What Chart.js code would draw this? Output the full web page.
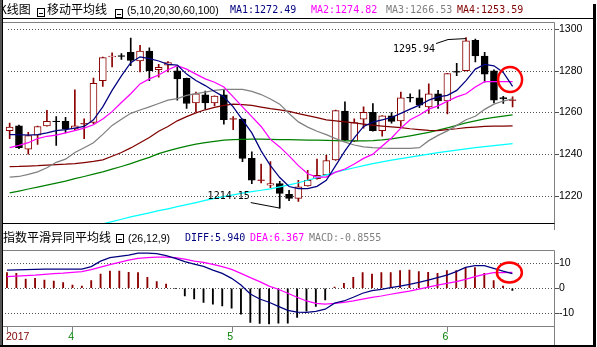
<!DOCTYPE html>
<html>
<head>
<meta charset="utf-8">
<script src="https://cdn.jsdelivr.net/npm/chart.js@4/dist/chart.umd.min.js"></script>
<style>
html, body { margin: 0; padding: 0; background: #fff; }
#wrap { position: relative; width: 597px; height: 347px; overflow: hidden; background: #fff; }
canvas { position: absolute; left: 0; }
.t { position: absolute; white-space: nowrap; line-height: 1; }
.cjk { font-family: "Noto Sans CJK SC"; font-size: 12px; color: #000; }
.lat { font-family: "Liberation Sans"; font-size: 10.5px; color: #000; }
.mono { font-family: "DejaVu Sans Mono"; font-size: 10px; }
.box { position: absolute; width: 6px; height: 7px; border: 1px solid #000; }
.box::after { content: ""; position: absolute; left: 1px; right: 1px; top: 4px; height: 1px; background: #000; }
.rule { position: absolute; }
</style>
</head>
<body>
<div id="wrap">
  <canvas id="main" width="597" height="230" style="top:0"></canvas>
  <canvas id="macd" width="597" height="117" style="top:230px"></canvas>
</div>
<script>
// ---- session slots and axis labels ----
const slots = Array.from({ length: 59 }, (_, i) => String(i));
const monthTickIndex = [0, 7, 24, 47];
const monthTickText = ['2017', '4', '5', '6'];
const priceTicks = [1220, 1240, 1260, 1280, 1300];
const macdTicks = [-10, 0, 10];
const maPeriods = '(5,10,20,30,60,100)';
const macdParams = '(26,12,9)';

// ---- daily candles ----
const open = [1251.3,1253.6,1242.4,1249.1,1253.6,1255.7,1255.7,1252.1,1254.6,1255.2,
  1275.3,1286.6,1287.1,1288.9,1284.7,1289.4,1280.5,1282.7,1280.0,1276.4,
  1264.6,1268.5,1264.6,1268.5,1256.9,1256.8,1238.0,1227.5,1225.1,1225.9,
  1220.7,1218.8,1224.8,1228.2,1230.1,1237.2,1260.7,1246.3,1256.8,1260.1,
  1251.3,1258.4,1256.0,1267.1,1267.0,1262.7,1269.0,1265.6,1279.5,1280.0,
  1294.6,1287.1,1280.0,1267.1,1265.9];
const high = [1254.9,1254.0,1250.5,1253.5,1261.0,1258.0,1257.7,1270.9,1256.9,1276.5,
  1286.6,1288.6,1288.3,1295.7,1292.2,1291.0,1283.1,1284.4,1281.9,1276.5,
  1269.8,1270.3,1268.0,1270.9,1258.0,1257.0,1241.1,1235.3,1236.4,1227.0,
  1222.7,1227.5,1232.2,1237.6,1239.5,1261.2,1265.1,1256.9,1262.7,1264.3,
  1258.5,1259.9,1269.8,1269.0,1270.9,1273.7,1270.6,1278.8,1283.6,1295.94,
  1295.2,1288.9,1280.5,1267.8,1267.5];
const low = [1247.5,1242.7,1240.0,1244.7,1253.4,1244.2,1250.2,1251.5,1247.4,1254.6,
  1272.5,1281.9,1285.5,1282.4,1279.5,1275.3,1276.9,1279.5,1265.9,1262.0,
  1260.4,1261.6,1263.2,1254.4,1251.8,1236.4,1225.9,1226.2,1224.0,1214.15,
  1217.7,1217.3,1224.7,1228.0,1230.0,1237.0,1246.5,1246.0,1252.5,1251.0,
  1248.6,1254.9,1253.3,1265.1,1262.3,1259.6,1262.0,1259.3,1277.6,1279.9,
  1284.2,1274.5,1264.6,1264.3,1262.7];
const close = [1253.0,1243.1,1248.9,1253.3,1255.7,1255.65,1252.1,1253.6,1254.65,1274.0,
  1286.3,1287.1,1287.05,1285.0,1289.4,1280.0,1281.6,1283.9,1276.1,1264.3,
  1269.0,1264.6,1267.9,1256.5,1256.95,1238.0,1227.5,1227.55,1225.9,1221.2,
  1218.8,1224.3,1227.5,1229.8,1236.9,1260.9,1246.7,1255.2,1260.1,1251.3,
  1258.4,1255.7,1267.0,1267.05,1263.5,1268.9,1265.6,1278.7,1279.45,1294.4,
  1287.1,1278.4,1265.9,1266.5,1265.95];

// ---- moving averages ----
const ma5 = [1249.4,1249.4,1249.1,1249.4,1250.2,1251.3,1251.8,1252.5,1253.3,1256.5,
  1262.7,1270.6,1277.6,1283.9,1286.7,1285.8,1284.7,1283.1,1282.7,1278.4,
  1275.3,1272.9,1270.1,1267.5,1262.7,1256.5,1250.2,1241.6,1234.5,1228.8,
  1224.5,1223.5,1223.5,1224.6,1227.5,1234.5,1241.6,1247.8,1253.3,1255.4,
  1256.5,1257.6,1259.6,1261.6,1263.5,1265.9,1267.5,1268.2,1270.6,1275.3,
  1280.8,1283.1,1282.4,1279.2,1272.49];
const ma10 = [1243.1,1244.2,1245.5,1247.5,1248.6,1249.1,1250.2,1251.3,1252.5,1254.1,
  1256.9,1260.4,1264.8,1269.0,1273.7,1276.1,1278.0,1280.5,1282.4,1280.8,
  1278.4,1276.1,1274.5,1272.2,1267.5,1262.7,1258.0,1253.3,1247.1,1243.5,
  1239.2,1234.5,1230.6,1229.0,1229.0,1231.4,1232.9,1235.3,1238.0,1240.0,
  1243.9,1247.8,1252.5,1256.5,1258.8,1261.6,1263.2,1265.4,1267.5,1269.0,
  1272.2,1274.8,1274.8,1274.8,1274.82];
const ma20 = [1229.0,1229.3,1230.3,1231.5,1233.5,1236.1,1237.6,1240.8,1243.1,1245.5,
  1249.5,1253.8,1256.8,1259.6,1261.2,1262.7,1264.3,1265.9,1266.7,1268.2,
  1269.0,1269.8,1270.6,1271.1,1271.1,1271.1,1270.1,1268.6,1266.5,1264.0,
  1259.5,1255.5,1253.0,1251.0,1249.4,1247.5,1245.8,1244.4,1243.5,1243.1,
  1242.9,1242.8,1242.8,1242.8,1243.1,1246.5,1249.0,1251.2,1253.8,1256.5,
  1258.2,1261.5,1264.0,1265.5,1266.53];
const ma30 = [1234.0,1234.1,1234.3,1234.5,1234.8,1235.0,1235.2,1235.5,1236.0,1236.5,
  1237.3,1239.0,1240.8,1243.0,1245.5,1248.0,1251.0,1253.3,1256.0,1258.0,
  1259.8,1261.3,1262.5,1263.4,1264.0,1263.8,1263.4,1262.6,1261.8,1261.2,
  1260.5,1259.5,1258.5,1257.5,1256.5,1256.0,1255.5,1255.0,1254.4,1253.9,
  1253.5,1253.1,1252.7,1252.2,1251.8,1251.4,1251.3,1251.8,1252.2,1252.7,
  1253.0,1253.3,1253.4,1253.5,1253.59];
const ma60 = [1221.4,1222.3,1223.3,1224.2,1225.2,1226.1,1227.1,1228.3,1229.3,1230.4,
  1231.5,1232.8,1234.1,1235.5,1237.0,1238.5,1240.3,1241.6,1242.8,1243.9,
  1244.8,1245.6,1246.2,1246.7,1247.0,1247.1,1247.2,1247.2,1247.1,1247.0,
  1247.0,1246.9,1246.8,1246.7,1246.6,1246.5,1246.4,1246.4,1246.4,1246.5,
  1246.9,1247.4,1248.1,1248.8,1249.6,1250.5,1251.5,1252.6,1253.8,1255.0,
  1256.0,1256.9,1257.7,1258.3,1258.8];
const ma100 = [null,null,null,null,null,null,null,null,null,null,
  1206.6,1207.7,1208.8,1209.9,1210.9,1211.9,1212.9,1213.8,1214.8,1215.8,
  1216.8,1217.8,1218.8,1219.7,1220.5,1221.3,1222.0,1222.7,1223.4,1224.3,
  1225.3,1226.3,1227.5,1228.8,1230.1,1231.4,1232.5,1233.5,1234.5,1235.5,
  1236.3,1237.1,1237.9,1238.6,1239.3,1240.0,1240.7,1241.4,1242.0,1242.6,
  1243.1,1243.6,1244.1,1244.6,1245.1];

// ---- MACD (26,12,9) ----
const diff = [7.3,7.4,7.5,7.6,7.7,7.7,7.7,7.7,7.7,8.7,
  10.9,12.3,12.8,13.3,14.1,14.1,13.9,13.1,12.0,10.7,
  9.7,8.8,7.3,6.0,4.0,1.3,-2.3,-4.3,-5.6,-7.3,
  -8.9,-9.6,-9.7,-9.3,-8.4,-6.0,-5.1,-3.6,-2.0,-0.9,
  -0.4,0.3,0.9,1.6,2.4,3.3,4.3,5.3,6.7,8.4,
  9.1,9.1,8.0,6.9,5.940];
const dea = [4.7,4.9,5.1,5.3,5.6,5.9,6.1,6.4,6.7,7.5,
  8.5,9.5,10.4,11.3,12.0,12.3,12.5,12.5,12.3,11.7,
  10.9,10.4,9.6,8.7,7.6,6.0,4.3,2.7,0.9,-0.4,
  -2.0,-3.6,-5.1,-6.1,-6.4,-6.1,-5.7,-5.1,-4.4,-3.7,
  -3.1,-2.4,-1.7,-1.1,-0.3,0.5,1.3,2.0,2.7,3.6,
  4.7,5.6,6.3,6.3,6.367];
const macd = [6.3,6.0,3.7,4.0,3.3,2.9,2.3,1.3,0.9,3.1,
  5.7,6.9,6.9,6.4,6.3,4.4,2.7,1.7,-0.1,-3.1,
  -4.3,-5.7,-6.4,-7.1,-8.0,-10.4,-13.7,-14.1,-14.3,-14.0,
  -14.0,-11.7,-9.2,-7.3,-4.7,0.5,2.0,4.4,6.3,5.7,
  6.3,6.3,7.1,7.3,6.7,6.4,6.0,7.1,7.1,8.4,
  8.3,6.0,3.1,0.9,-0.8555];

// ---- colours ----
const UP = '#8b0000', DOWN = '#000000';
const C_MA5 = '#000080', C_MA10 = '#ff00ff', C_MA20 = '#808080',
      C_MA30 = '#800000', C_MA60 = '#008000', C_MA100 = '#00ffff';
const GRID = '#808080';
const DOT = '#505050';
const NONE = 'rgba(0,0,0,0)';

const last = a => a[a.length - 1];
const isUp = i => close[i] >= open[i];
const isDoji = i => Math.abs(close[i] - open[i]) < 0.2;

// ---- header texts ----
const wrap = document.getElementById('wrap');
function put(text, left, top, cls, color) {
  const s = document.createElement('span');
  s.className = 't ' + cls;
  s.textContent = text;
  s.style.left = left + 'px';
  s.style.top = top + 'px';
  if (color) s.style.color = color;
  wrap.appendChild(s);
}
function box(left, top) {
  const b = document.createElement('div');
  b.className = 'box';
  b.style.left = left + 'px';
  b.style.top = top + 'px';
  wrap.appendChild(b);
}
function rule(left, top, w, h, color) {
  const r = document.createElement('div');
  r.className = 'rule';
  Object.assign(r.style, { left: left + 'px', top: top + 'px', width: w + 'px', height: h + 'px', background: color });
  wrap.appendChild(r);
}

put('K线图', -1, 3, 'cjk');
box(37, 8);
put('移动平均线', 47, 3, 'cjk');
box(115, 9);
put(maPeriods, 127, 5, 'lat');
put('MA1:' + last(ma5).toFixed(2), 230, 5, 'mono', C_MA5);
put('MA2:' + last(ma10).toFixed(2), 311, 5, 'mono', C_MA10);
put('MA3:' + last(ma20).toFixed(2), 386, 5, 'mono', C_MA20);
put('MA4:' + last(ma30).toFixed(2), 457, 5, 'mono', C_MA30);

put('指数平滑异同平均线', 3, 231, 'cjk');
box(116, 234);
put(macdParams, 128, 233, 'lat');
put('DIFF:' + last(diff).toFixed(3), 185, 233, 'mono', C_MA5);
put('DEA:' + last(dea).toFixed(3), 250, 233, 'mono', C_MA10);
put('MACD:' + last(macd).toFixed(4), 309, 233, 'mono', C_MA20);

// window frame
rule(0, 18, 593, 1, '#000');
rule(0, 0, 2, 347, '#555');
rule(2, 0, 1, 347, '#000');
rule(593, 4, 3, 343, '#000');
rule(0, 345, 596, 2, '#000');

// ---- plugins ----
// dotted value grid (one pixel every three) with short tick marks at the y scale's ticks;
// painted behind whatever is already on the canvas
const gridPlugin = {
  id: 'dotGrid',
  afterDraw(chart) {
    const { ctx, chartArea: a, scales: { y } } = chart;
    const x0 = Math.round(a.left) + 3, x1 = Math.round(a.right);
    ctx.save();
    ctx.globalCompositeOperation = 'destination-over';
    ctx.fillStyle = DOT;
    y.ticks.forEach(t => {
      const py = Math.round(y.getPixelForValue(t.value));
      for (let px = x0; px < x1; px += 3) ctx.fillRect(px, py, 1, 1);
      ctx.fillRect(x1, py, 4, 1);
    });
    ctx.restore();
  }
};

const framePlugin = {
  id: 'frame',
  afterDraw(chart, args, opts) {
    const { ctx, chartArea: a } = chart;
    const top = Math.floor(a.top) + 0.5, bot = Math.floor(a.bottom) + 0.5, right = Math.floor(a.right) + 0.5;
    ctx.save();
    ctx.lineWidth = 1;
    ctx.strokeStyle = opts.top;
    ctx.beginPath(); ctx.moveTo(3, top); ctx.lineTo(right, top); ctx.stroke();
    ctx.strokeStyle = opts.right;
    ctx.beginPath(); ctx.moveTo(right, top); ctx.lineTo(right, chart.height); ctx.stroke();
    ctx.strokeStyle = opts.bottom;
    ctx.beginPath(); ctx.moveTo(3, bot); ctx.lineTo(right, bot); ctx.stroke();
    ctx.restore();
  }
};

const extremePlugin = {
  id: 'extremes',
  afterDraw(chart) {
    const { ctx, scales: { x, y } } = chart;
    const hiIdx = high.indexOf(Math.max(...high));
    const loIdx = low.indexOf(Math.min(...low));
    ctx.save();
    ctx.font = '10px "DejaVu Sans Mono"';
    ctx.fillStyle = '#000';
    ctx.strokeStyle = '#000';
    ctx.lineWidth = 1;
    ctx.textBaseline = 'middle';
    ctx.textAlign = 'right';
    // highest high
    const hx = x.getPixelForValue(hiIdx), hy = y.getPixelForValue(high[hiIdx]);
    ctx.fillText(high[hiIdx].toFixed(2), hx - 31, hy + 12);
    ctx.beginPath(); ctx.moveTo(hx - 30, hy + 6); ctx.lineTo(hx - 18, hy + 2); ctx.lineTo(hx, hy + 1); ctx.stroke();
    // lowest low
    const lx = x.getPixelForValue(loIdx), ly = y.getPixelForValue(low[loIdx]);
    ctx.fillText(low[loIdx].toFixed(2), lx - 30, ly - 12);
    ctx.beginPath(); ctx.moveTo(lx - 29, ly - 5.5); ctx.lineTo(lx, ly); ctx.stroke();
    // ring on the latest MA10 reading
    const n = close.length - 1;
    ctx.strokeStyle = '#ff0000';
    ctx.lineWidth = 2.5;
    ctx.beginPath();
    ctx.ellipse(x.getPixelForValue(n) - 2.5, y.getPixelForValue(ma10[n]) - 2, 12, 12.5, 0, 0, Math.PI * 2);
    ctx.stroke();
    ctx.restore();
  }
};

const macdMarkPlugin = {
  id: 'macdMarks',
  afterDraw(chart) {
    const { ctx, scales: { x, y }, chartArea: a } = chart;
    ctx.save();
    // month tick marks and labels
    ctx.font = '10.5px "Liberation Sans"';
    ctx.textBaseline = 'middle';
    monthTickIndex.forEach((idx, k) => {
      const px = x.getPixelForValue(idx);
      ctx.fillStyle = GRID;
      ctx.fillRect(Math.round(px), Math.round(a.bottom), 1, 5);
      ctx.fillStyle = k === 0 ? '#800000' : '#008000';
      ctx.textAlign = k === 0 ? 'left' : 'right';
      ctx.fillText(monthTickText[k], k === 0 ? px - 1 : px + 1.5, a.bottom + 10);
    });
    // ring on the latest DEA reading
    const n = dea.length - 1;
    ctx.strokeStyle = '#ff0000';
    ctx.lineWidth = 2.5;
    ctx.beginPath();
    ctx.ellipse(x.getPixelForValue(n) - 3, y.getPixelForValue(dea[n]), 12.5, 10, 0, 0, Math.PI * 2);
    ctx.stroke();
    ctx.restore();
  }
};

const lineDs = (data, color) => ({
  type: 'line', data, borderColor: color, borderWidth: 1.25, pointRadius: 0,
  tension: 0, spanGaps: false, order: 0
});

const commonOpts = {
  responsive: false, devicePixelRatio: 1, animation: false, events: [],
  plugins: { legend: { display: false }, tooltip: { enabled: false } }
};

const valueAxis = (min, max, tickValues) => ({
  position: 'right', min, max,
  afterFit: s => { s.width = 42.5; },
  afterBuildTicks: s => { s.ticks = tickValues.map(v => ({ value: v })); },
  grid: { color: NONE, tickColor: NONE, tickLength: 4 },
  border: { display: false },
  ticks: { padding: 0.5, color: '#000', font: { family: 'Liberation Sans', size: 10.5 }, callback: v => String(v) }
});

// ---- price panel ----
new Chart(document.getElementById('main'), {
  type: 'bar',
  data: {
    labels: slots,
    datasets: [
      lineDs(ma5, C_MA5), lineDs(ma10, C_MA10), lineDs(ma20, C_MA20),
      lineDs(ma30, C_MA30), lineDs(ma60, C_MA60), lineDs(ma100, C_MA100),
      {
        type: 'line', showLine: false, order: 1,
        data: open.map((o, i) => isDoji(i) ? o : null),
        pointStyle: 'line', pointRadius: 3.5, pointBorderWidth: 1,
        pointBorderColor: open.map((o, i) => isUp(i) ? UP : DOWN)
      },
      {
        type: 'bar', order: 2, grouped: false, barThickness: 7,
        data: open.map((o, i) => [o, close[i]]),
        backgroundColor: open.map((o, i) => isUp(i) ? '#ffffff' : DOWN),
        borderColor: open.map((o, i) => isUp(i) ? UP : DOWN),
        borderWidth: 1, borderSkipped: false
      },
      {
        type: 'bar', order: 3, grouped: false, barThickness: 1,
        data: low.map((l, i) => [l, high[i]]),
        backgroundColor: open.map((o, i) => isUp(i) ? UP : DOWN)
      }
    ]
  },
  options: {
    ...commonOpts,
    layout: { padding: { left: 2.3, right: 0, top: 22, bottom: 0.5 } },
    plugins: { ...commonOpts.plugins, frame: { top: GRID, right: GRID, bottom: '#000' } },
    scales: {
      x: { type: 'category', offset: true, display: false },
      y: valueAxis(1206.9, 1303.4, priceTicks)
    }
  },
  plugins: [gridPlugin, framePlugin, extremePlugin]
});

// ---- MACD panel ----
new Chart(document.getElementById('macd'), {
  type: 'bar',
  data: {
    labels: slots,
    datasets: [
      lineDs(diff, C_MA5), lineDs(dea, C_MA10),
      {
        type: 'bar', order: 2, grouped: false, barThickness: 1.2,
        data: macd,
        backgroundColor: macd.map(v => v >= 0 ? UP : DOWN)
      }
    ]
  },
  options: {
    ...commonOpts,
    layout: { padding: { left: 2.3, right: 0, top: 20, bottom: 0 } },
    plugins: { ...commonOpts.plugins, frame: { top: GRID, right: GRID, bottom: GRID } },
    scales: {
      x: {
        type: 'category', offset: true, position: 'bottom',
        afterFit: s => { s.height = 20.3; },
        grid: { display: false },
        border: { display: false },
        ticks: { display: false }
      },
      y: valueAxis(-15.45, 15.4, macdTicks)
    }
  },
  plugins: [gridPlugin, framePlugin, macdMarkPlugin]
});
</script>
</body>
</html>
